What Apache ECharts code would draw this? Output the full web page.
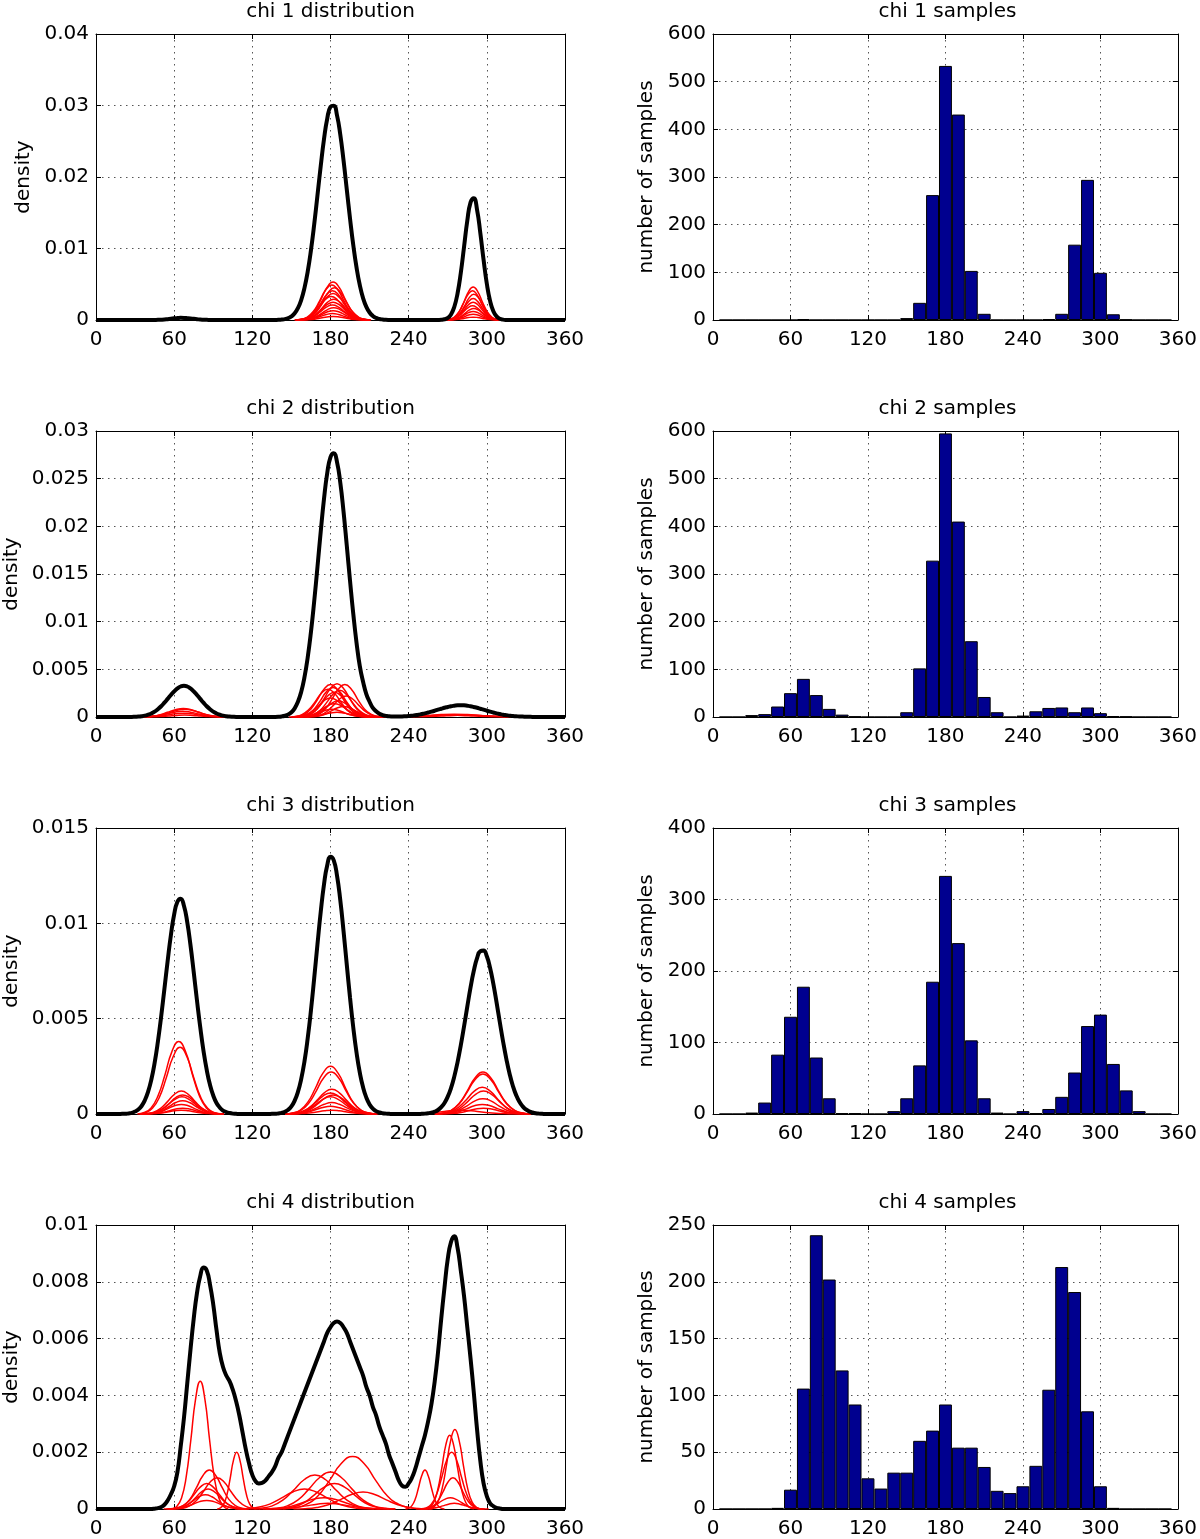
<!DOCTYPE html>
<html><head><meta charset="utf-8">
<script src="https://cdn.jsdelivr.net/npm/echarts@6/dist/echarts.min.js"></script>
<style>html,body{margin:0;padding:0;background:#fff}#c{width:1200px;height:1539px}</style>
</head><body><div id="c"></div>
<script>
// ---------- data ----------
const distTitles = ['chi 1 distribution','chi 2 distribution','chi 3 distribution','chi 4 distribution'];
const sampleTitles = ['chi 1 samples','chi 2 samples','chi 3 samples','chi 4 samples'];
const densityYMax = [0.04,0.03,0.015,0.01];
const densityYStep = [0.01,0.005,0.005,0.002];
const countYMax = [600,600,400,250];
const countYStep = [100,100,100,50];

// total density curves: [angle, density]
const chi1Density = [[0,0],[42.5,0],[45,0.00001],[47.5,0.00002],[50,0.00004],[52.5,0.00007],[55,0.00012],[57.5,0.00017],[60,0.00023],[62.5,0.00027],[65,0.0003],[67.5,0.00029],[70,0.00026],[72.5,0.00022],[75,0.00016],[77.5,0.00011],[80,0.00006],[82.5,0.00004],[85,0.00002],[87.5,0.00001],[90,0],
 [135,0],[137.5,0.00001],[140,0.00002],[142.5,0.00006],[145,0.00012],[147.5,0.00025],[150,0.0005],[152.5,0.00093],[155,0.00166],[157.5,0.00279],[160,0.00446],[162.5,0.00677],[165,0.00977],[167.5,0.01339],[170,0.01744],[172.5,0.02154],[175,0.02528],[177.5,0.02817],[180,0.02982],[182.5,0.02998],[185,0.02862],[187.5,0.02594],[190,0.02233],[192.5,0.01826],[195,0.01418],[197.5,0.01045],[200,0.00732],[202.5,0.00487],[205,0.00307],[207.5,0.00184],[210,0.00105],[212.5,0.00057],[215,0.00029],[217.5,0.00014],[220,0.00007],[222.5,0.00003],[225,0.00001],[227.5,0],
 [260,0],[262.5,0.00001],[265,0.00003],[267.5,0.0001],[270,0.00029],[272.5,0.00078],[275,0.00182],[277.5,0.0037],[280,0.00657],[282.5,0.01022],[285,0.01387],[287.5,0.01645],[290,0.01703],[292.5,0.01541],[295,0.01218],[297.5,0.00841],[300,0.00507],[302.5,0.00267],[305,0.00123],[307.5,0.0005],[310,0.00017],[312.5,0.00005],[315,0.00001],[317.5,0],[360,0]];
const chi2Density = [[0,0],[22.5,0],[25,0.00001],[27.5,0.00001],[30,0.00003],[32.5,0.00005],[35,0.00008],[37.5,0.00014],[40,0.00024],[42.5,0.00037],[45,0.00056],[47.5,0.00082],[50,0.00113],[52.5,0.0015],[55,0.0019],[57.5,0.00231],[60,0.00269],[62.5,0.003],[65,0.0032],[67.5,0.00327],[70,0.0032],[72.5,0.003],[75,0.00269],[77.5,0.00231],[80,0.0019],[82.5,0.0015],[85,0.00113],[87.5,0.00082],[90,0.00056],[92.5,0.00037],[95,0.00024],[97.5,0.00014],[100,0.00008],[102.5,0.00005],[105,0.00003],[107.5,0.00001],[110,0.00001],[112.5,0],
 [135,0],[137.5,0.00001],[140,0.00003],[142.5,0.00006],[145,0.00013],[147.5,0.00026],[150,0.0005],[152.5,0.00091],[155,0.00159],[157.5,0.00263],[160,0.00415],[162.5,0.00624],[165,0.00892],[167.5,0.01215],[170,0.01575],[172.5,0.01944],[175,0.02286],[177.5,0.02559],[180,0.02727],[182.5,0.02767],[185,0.02674],[187.5,0.0246],[190,0.02155],[192.5,0.01798],[195,0.01428],[197.5,0.0108],[200,0.00777],[202.5,0.00533],[205,0.0037],[207.5,0.0024],[210,0.0016],[212.5,0.00095],[215,0.0006],[217.5,0.00035],[220,0.0002],[222.5,0.00012],[225,0.00007],[227.5,0.00006],[230,0.00005],[232.5,0.00005],[235,0.00006],[237.5,0.00008],[240,0.0001],[242.5,0.00014],[245,0.00019],[247.5,0.00024],[250,0.00031],[252.5,0.00038],[255,0.00047],[257.5,0.00056],[260,0.00066],[262.5,0.00077],[265,0.00087],[267.5,0.00097],[270,0.00105],[272.5,0.00113],[275,0.00118],[277.5,0.00122],[280,0.00123],[282.5,0.00122],[285,0.00118],[287.5,0.00113],[290,0.00105],[292.5,0.00097],[295,0.00087],[297.5,0.00077],[300,0.00066],[302.5,0.00056],[305,0.00047],[307.5,0.00038],[310,0.00031],[312.5,0.00024],[315,0.00019],[317.5,0.00014],[320,0.0001],[322.5,0.00008],[325,0.00005],[327.5,0.00004],[330,0.00003],[332.5,0.00002],[335,0.00001],[337.5,0.00001],[340,0],[360,0]];
const chi3Density = [[0,0],[17.5,0],[20,0.00001],[22.5,0.00001],[25,0.00003],[27.5,0.00006],[30,0.00013],[32.5,0.00024],[35,0.00042],[37.5,0.00072],[40,0.00117],[42.5,0.00181],[45,0.00268],[47.5,0.00379],[50,0.0051],[52.5,0.00656],[55,0.00803],[57.5,0.00939],[60,0.01047],[62.5,0.01113],[65,0.01129],[67.5,0.01092],[70,0.01008],[72.5,0.00887],[75,0.00745],[77.5,0.00596],[80,0.00456],[82.5,0.00332],[85,0.00231],[87.5,0.00153],[90,0.00097],[92.5,0.00058],[95,0.00034],[97.5,0.00018],[100,0.0001],[102.5,0.00005],[105,0.00002],[107.5,0.00001],[110,0],
 [132.5,0],[135,0.00001],[137.5,0.00001],[140,0.00003],[142.5,0.00006],[145,0.00012],[147.5,0.00022],[150,0.0004],[152.5,0.0007],[155,0.00116],[157.5,0.00183],[160,0.00275],[162.5,0.00397],[165,0.00544],[167.5,0.00713],[170,0.0089],[172.5,0.0106],[175,0.01204],[177.5,0.01305],[180,0.01349],[182.5,0.0133],[185,0.0125],[187.5,0.01122],[190,0.0096],[192.5,0.00783],[195,0.0061],[197.5,0.00453],[200,0.00321],[202.5,0.00217],[205,0.0014],[207.5,0.00086],[210,0.0005],[212.5,0.00028],[215,0.00015],[217.5,0.00008],[220,0.00004],[222.5,0.00002],[225,0.00001],[227.5,0],
 [247.5,0],[250,0.00001],[252.5,0.00002],[255,0.00004],[257.5,0.00007],[260,0.00012],[262.5,0.00021],[265,0.00036],[267.5,0.00058],[270,0.00091],[272.5,0.00136],[275,0.00196],[277.5,0.00271],[280,0.0036],[282.5,0.00459],[285,0.00563],[287.5,0.00664],[290,0.00751],[292.5,0.00817],[295,0.00854],[297.5,0.00857],[300,0.00827],[302.5,0.00766],[305,0.00682],[307.5,0.00584],[310,0.0048],[312.5,0.00379],[315,0.00288],[317.5,0.0021],[320,0.00147],[322.5,0.00099],[325,0.00064],[327.5,0.0004],[330,0.00024],[332.5,0.00014],[335,0.00008],[337.5,0.00004],[340,0.00002],[342.5,0.00001],[345,0],[360,0]];
const chi4Density = [[0,0],[42.5,0],[45,0.00001],[47.5,0.00003],[50,0.00007],[52.5,0.00015],[55,0.0003],[57.5,0.00052],[60,0.0008],[62.5,0.0013],[65,0.0022],[67.5,0.0032],[70,0.0044],[72.5,0.0056],[75,0.0067],[77.5,0.0076],[80,0.0082],[82.5,0.0085],[85,0.0084],[87.5,0.0079],[90,0.0072],[92.5,0.0063],[95,0.0055],[97.5,0.005],[100,0.0047],[102.5,0.0045],[105,0.0042],[107.5,0.0038],[110,0.0033],[112.5,0.0027],[115,0.0021],[117.5,0.0016],[120,0.0012],[122.5,0.00098],[125,0.0009],[127.5,0.00092],[130,0.001],[132.5,0.00115],[135,0.0013],[137.5,0.0015],[140,0.0018],[142.5,0.002],[145,0.0023],[147.5,0.0026],[150,0.0029],[152.5,0.0032],[155,0.0035],[157.5,0.0038],[160,0.0041],[162.5,0.0044],[165,0.0047],[167.5,0.005],[170,0.0053],[172.5,0.0056],[175,0.0059],[177.5,0.0062],[180,0.0064],[182.5,0.00655],[185,0.0066],[187.5,0.00655],[190,0.0064],[192.5,0.0062],[195,0.0059],[197.5,0.0056],[200,0.0053],[202.5,0.005],[205,0.0047],[207.5,0.0043],[210,0.004],[212.5,0.0036],[215,0.0033],[217.5,0.0029],[220,0.0026],[222.5,0.0023],[225,0.0019],[227.5,0.0016],[230,0.0013],[232.5,0.001],[235,0.00082],[237.5,0.00078],[240,0.0009],[242.5,0.0011],[245,0.0014],[247.5,0.0018],[250,0.0022],[252.5,0.0026],[255,0.0031],[257.5,0.0037],[260,0.0045],[262.5,0.0055],[265,0.0067],[267.5,0.0078],[270,0.0088],[272.5,0.0094],[275,0.0096],[277.5,0.0092],[280,0.0084],[282.5,0.0075],[285,0.0064],[287.5,0.0053],[290,0.0041],[292.5,0.0028],[295,0.0017],[297.5,0.0009],[300,0.00045],[302.5,0.0002],[305,0.0001],[307.5,0.00004],[310,0.00002],[312.5,0],[360,0]];

// red component curves: [first angle, angle step, densities]
const chi1Red = [
 [153.8,4.7,[0,0.00011,0.00045,0.00132,0.00286,0.00454,0.0053,0.00454,0.00286,0.00132,0.00045,0.00011,0]],
 [152.8,4.7,[0,0.0001,0.00041,0.00122,0.00264,0.0042,0.0049,0.0042,0.00264,0.00122,0.00041,0.0001,0]],
 [154.8,4.7,[0,0.00009,0.00038,0.00112,0.00243,0.00386,0.0045,0.00386,0.00243,0.00112,0.00038,0.00009,0]],
 [153.3,4.7,[0,0.00009,0.00035,0.00102,0.00221,0.00351,0.0041,0.00351,0.00221,0.00102,0.00035,0.00009,0]],
 [153.8,4.7,[0,0.00008,0.00031,0.00092,0.00199,0.00317,0.0037,0.00317,0.00199,0.00092,0.00031,0.00008,0]],
 [152.3,4.7,[0,0.00007,0.00028,0.00082,0.00178,0.00283,0.0033,0.00283,0.00178,0.00082,0.00028,0.00007,0]],
 [154.3,4.7,[0,0.00006,0.00025,0.00072,0.00156,0.00249,0.0029,0.00249,0.00156,0.00072,0.00025,0.00006,0]],
 [153.8,4.7,[0,0.00005,0.00021,0.00062,0.00135,0.00214,0.0025,0.00214,0.00135,0.00062,0.00021,0.00005,0]],
 [153.3,4.7,[0,0.00004,0.00018,0.00052,0.00113,0.0018,0.0021,0.0018,0.00113,0.00052,0.00018,0.00004,0]],
 [154.3,4.7,[0,0.00004,0.00014,0.00042,0.00092,0.00146,0.0017,0.00146,0.00092,0.00042,0.00014,0.00004,0]],
 [153.8,4.7,[0,0.00003,0.00011,0.00032,0.0007,0.00111,0.0013,0.00111,0.0007,0.00032,0.00011,0.00003,0]],
 [153.3,4.7,[0,0.00002,0.00008,0.00022,0.00049,0.00077,0.0009,0.00077,0.00049,0.00022,0.00008,0.00002,0]],
 [153.8,4.7,[0,0.00001,0.00004,0.00012,0.00027,0.00043,0.0005,0.00043,0.00027,0.00012,0.00004,0.00001,0]],
 [267.9,3.6,[0,0.0001,0.00039,0.00115,0.00248,0.00394,0.0046,0.00394,0.00248,0.00115,0.00039,0.0001,0]],
 [267.4,3.6,[0,0.00009,0.00035,0.00102,0.00221,0.00351,0.0041,0.00351,0.00221,0.00102,0.00035,0.00009,0]],
 [268.4,3.6,[0,0.00008,0.0003,0.0009,0.00194,0.00309,0.0036,0.00309,0.00194,0.0009,0.0003,0.00008,0]],
 [267.9,3.6,[0,0.00006,0.00025,0.00075,0.00162,0.00257,0.003,0.00257,0.00162,0.00075,0.00025,0.00006,0]],
 [267.9,3.6,[0,0.00005,0.00021,0.00062,0.00135,0.00214,0.0025,0.00214,0.00135,0.00062,0.00021,0.00005,0]],
 [267.4,3.6,[0,0.00004,0.00017,0.0005,0.00108,0.00171,0.002,0.00171,0.00108,0.0005,0.00017,0.00004,0]],
 [268.4,3.6,[0,0.00003,0.00014,0.0004,0.00086,0.00137,0.0016,0.00137,0.00086,0.0004,0.00014,0.00003,0]],
 [267.9,3.6,[0,0.00003,0.0001,0.0003,0.00065,0.00103,0.0012,0.00103,0.00065,0.0003,0.0001,0.00003,0]],
 [267.9,3.6,[0,0.00002,0.00007,0.0002,0.00043,0.00069,0.0008,0.00069,0.00043,0.0002,0.00007,0.00002,0]],
 [267.9,3.6,[0,0.00001,0.00003,0.0001,0.00022,0.00034,0.0004,0.00034,0.00022,0.0001,0.00003,0.00001,0]]
];
const chi2Red = [
 [30.4,6.1,[0,0.00002,0.00008,0.00022,0.00049,0.00077,0.0009,0.00077,0.00049,0.00022,0.00008,0.00002,0]],
 [31.4,6.1,[0,0.00002,0.00007,0.0002,0.00043,0.00069,0.0008,0.00069,0.00043,0.0002,0.00007,0.00002,0]],
 [29.9,6.1,[0,0.00001,0.00005,0.00015,0.00032,0.00051,0.0006,0.00051,0.00032,0.00015,0.00005,0.00001,0]],
 [30.4,6.1,[0,0.00001,0.00003,0.0001,0.00022,0.00034,0.0004,0.00034,0.00022,0.0001,0.00003,0.00001,0]],
 [31.4,6.1,[0,0,0.00002,0.00005,0.00011,0.00017,0.0002,0.00017,0.00011,0.00005,0.00002,0,0]],
 [150,5,[0,0.00007,0.00029,0.00085,0.00183,0.00291,0.0034,0.00291,0.00183,0.00085,0.00029,0.00007,0]],
 [155,5,[0,0.00007,0.0003,0.00087,0.00189,0.003,0.0035,0.003,0.00189,0.00087,0.0003,0.00007,0]],
 [161,5,[0,0.00007,0.00029,0.00085,0.00183,0.00291,0.0034,0.00291,0.00183,0.00085,0.00029,0.00007,0]],
 [152,5,[0,0.00007,0.00026,0.00077,0.00167,0.00266,0.0031,0.00266,0.00167,0.00077,0.00026,0.00007,0]],
 [148,5,[0,0.00006,0.00025,0.00072,0.00156,0.00249,0.0029,0.00249,0.00156,0.00072,0.00025,0.00006,0]],
 [157,5,[0,0.00006,0.00024,0.0007,0.00151,0.0024,0.0028,0.0024,0.00151,0.0007,0.00024,0.00006,0]],
 [153,5,[0,0.00005,0.00022,0.00065,0.0014,0.00223,0.0026,0.00223,0.0014,0.00065,0.00022,0.00005,0]],
 [162,5,[0,0.00005,0.00019,0.00055,0.00119,0.00189,0.0022,0.00189,0.00119,0.00055,0.00019,0.00005,0]],
 [150,5,[0,0.00004,0.00017,0.0005,0.00108,0.00171,0.002,0.00171,0.00108,0.0005,0.00017,0.00004,0]],
 [156,5,[0,0.00004,0.00014,0.00042,0.00092,0.00146,0.0017,0.00146,0.00092,0.00042,0.00014,0.00004,0]],
 [153,5,[0,0.00003,0.00012,0.00035,0.00075,0.0012,0.0014,0.0012,0.00075,0.00035,0.00012,0.00003,0]],
 [160,5,[0,0.00002,0.00009,0.00027,0.00059,0.00094,0.0011,0.00094,0.00059,0.00027,0.00009,0.00002,0]],
 [151,5,[0,0.00002,0.00007,0.0002,0.00043,0.00069,0.0008,0.00069,0.00043,0.0002,0.00007,0.00002,0]],
 [155,5,[0,0.00001,0.00004,0.00012,0.00027,0.00043,0.0005,0.00043,0.00027,0.00012,0.00004,0.00001,0]],
 [215,10,[0,0.00001,0.00003,0.00007,0.00016,0.00026,0.0003,0.00026,0.00016,0.00007,0.00003,0.00001,0]],
 [225,10,[0,0,0.00002,0.00005,0.00011,0.00017,0.0002,0.00017,0.00011,0.00005,0.00002,0,0]],
 [210,10,[0,0,0.00002,0.00005,0.00011,0.00017,0.0002,0.00017,0.00011,0.00005,0.00002,0,0]]
];
const chi3Red = [
 [31.7,5.3,[0,0.00008,0.00032,0.00095,0.00205,0.00326,0.0038,0.00326,0.00205,0.00095,0.00032,0.00008,0]],
 [32.7,5.3,[0,0.00007,0.0003,0.00087,0.00189,0.003,0.0035,0.003,0.00189,0.00087,0.0003,0.00007,0]],
 [33.7,5.3,[0,0.00003,0.0001,0.0003,0.00065,0.00103,0.0012,0.00103,0.00065,0.0003,0.0001,0.00003,0]],
 [34.7,5.3,[0,0.00002,0.00008,0.00025,0.00054,0.00086,0.001,0.00086,0.00054,0.00025,0.00008,0.00002,0]],
 [34.2,5.3,[0,0.00002,0.00008,0.00022,0.00049,0.00077,0.0009,0.00077,0.00049,0.00022,0.00008,0.00002,0]],
 [34.7,5.3,[0,0.00001,0.00006,0.00017,0.00038,0.0006,0.0007,0.0006,0.00038,0.00017,0.00006,0.00001,0]],
 [33.7,5.3,[0,0.00001,0.00004,0.00012,0.00027,0.00043,0.0005,0.00043,0.00027,0.00012,0.00004,0.00001,0]],
 [34.7,5.3,[0,0.00001,0.00003,0.00007,0.00016,0.00026,0.0003,0.00026,0.00016,0.00007,0.00003,0.00001,0]],
 [33.7,5.3,[0,0,0.00002,0.00005,0.00011,0.00017,0.0002,0.00017,0.00011,0.00005,0.00002,0,0]],
 [145.2,5.8,[0,0.00005,0.00021,0.00062,0.00135,0.00214,0.0025,0.00214,0.00135,0.00062,0.00021,0.00005,0]],
 [145.7,5.8,[0,0.00005,0.00019,0.00055,0.00119,0.00189,0.0022,0.00189,0.00119,0.00055,0.00019,0.00005,0]],
 [146.2,5.8,[0,0.00003,0.00011,0.00032,0.0007,0.00111,0.0013,0.00111,0.0007,0.00032,0.00011,0.00003,0]],
 [145.2,5.8,[0,0.00002,0.00009,0.00027,0.00059,0.00094,0.0011,0.00094,0.00059,0.00027,0.00009,0.00002,0]],
 [147.2,5.8,[0,0.00002,0.00008,0.00025,0.00054,0.00086,0.001,0.00086,0.00054,0.00025,0.00008,0.00002,0]],
 [145.2,5.8,[0,0.00002,0.00008,0.00022,0.00049,0.00077,0.0009,0.00077,0.00049,0.00022,0.00008,0.00002,0]],
 [146.2,5.8,[0,0.00001,0.00005,0.00015,0.00032,0.00051,0.0006,0.00051,0.00032,0.00015,0.00005,0.00001,0]],
 [145.2,5.8,[0,0.00001,0.00003,0.0001,0.00022,0.00034,0.0004,0.00034,0.00022,0.0001,0.00003,0.00001,0]],
 [146.2,5.8,[0,0,0.00002,0.00005,0.00011,0.00017,0.0002,0.00017,0.00011,0.00005,0.00002,0,0]],
 [260.4,6.1,[0,0.00005,0.00019,0.00055,0.00119,0.00189,0.0022,0.00189,0.00119,0.00055,0.00019,0.00005,0]],
 [260.4,6.1,[0,0.00004,0.00018,0.00052,0.00113,0.0018,0.0021,0.0018,0.00113,0.00052,0.00018,0.00004,0]],
 [259.9,6.1,[0,0.00003,0.00012,0.00035,0.00075,0.0012,0.0014,0.0012,0.00075,0.00035,0.00012,0.00003,0]],
 [260.9,6.1,[0,0.00003,0.0001,0.0003,0.00065,0.00103,0.0012,0.00103,0.00065,0.0003,0.0001,0.00003,0]],
 [260.4,6.1,[0,0.00002,0.00007,0.0002,0.00043,0.00069,0.0008,0.00069,0.00043,0.0002,0.00007,0.00002,0]],
 [259.9,6.1,[0,0.00001,0.00004,0.00012,0.00027,0.00043,0.0005,0.00043,0.00027,0.00012,0.00004,0.00001,0]],
 [260.9,6.1,[0,0.00001,0.00003,0.00007,0.00016,0.00026,0.0003,0.00026,0.00016,0.00007,0.00003,0.00001,0]],
 [232,8,[0,0,0.00002,0.00005,0.00011,0.00017,0.0002,0.00017,0.00011,0.00005,0.00002,0,0]]
];
const chi4Red = [
 [58.4,3.6,[0,0.00009,0.00038,0.00112,0.00243,0.00386,0.0045,0.00386,0.00243,0.00112,0.00038,0.00009,0]],
 [93,2.5,[0,0.00004,0.00017,0.0005,0.00108,0.00171,0.002,0.00171,0.00108,0.0005,0.00017,0.00004,0]],
 [57,5,[0,0.00003,0.00012,0.00034,0.00074,0.00117,0.00137,0.00117,0.00074,0.00034,0.00012,0.00003,0]],
 [60,5.5,[0,0.00002,0.00009,0.00027,0.00059,0.00094,0.0011,0.00094,0.00059,0.00027,0.00009,0.00002,0]],
 [55,5,[0,0.00002,0.00008,0.00022,0.00049,0.00077,0.0009,0.00077,0.00049,0.00022,0.00008,0.00002,0]],
 [56,5,[0,0.00001,0.00006,0.00017,0.00038,0.0006,0.0007,0.0006,0.00038,0.00017,0.00006,0.00001,0]],
 [54,5,[0,0.00001,0.00004,0.00012,0.00027,0.00043,0.0005,0.00043,0.00027,0.00012,0.00004,0.00001,0]],
 [52,5.5,[0,0.00001,0.00003,0.00007,0.00016,0.00026,0.0003,0.00026,0.00016,0.00007,0.00003,0.00001,0]],
 [143.6,8.9,[0,0.00004,0.00016,0.00046,0.001,0.00159,0.00185,0.00159,0.001,0.00046,0.00016,0.00004,0]],
 [118.2,8.3,[0,0.00003,0.0001,0.0003,0.00065,0.00103,0.0012,0.00103,0.00065,0.0003,0.0001,0.00003,0]],
 [130.2,8.3,[0,0.00003,0.00011,0.00032,0.0007,0.00111,0.0013,0.00111,0.0007,0.00032,0.00011,0.00003,0]],
 [106.6,8.9,[0,0.00001,0.00006,0.00017,0.00038,0.0006,0.0007,0.0006,0.00038,0.00017,0.00006,0.00001,0]],
 [136.2,7.8,[0,0.00002,0.00008,0.00022,0.00049,0.00077,0.0009,0.00077,0.00049,0.00022,0.00008,0.00002,0]],
 [151.6,8.9,[0,0.00001,0.00005,0.00015,0.00032,0.00051,0.0006,0.00051,0.00032,0.00015,0.00005,0.00001,0]],
 [125.2,8.3,[0,0.00001,0.00003,0.0001,0.00022,0.00034,0.0004,0.00034,0.00022,0.0001,0.00003,0.00001,0]],
 [128.2,8.3,[0,0,0.00002,0.00005,0.00011,0.00017,0.0002,0.00017,0.00011,0.00005,0.00002,0,0]],
 [237.5,2.5,[0,0.00003,0.00012,0.00034,0.00074,0.00117,0.00137,0.00117,0.00074,0.00034,0.00012,0.00003,0]],
 [255.7,3.3,[0,0.00006,0.00024,0.0007,0.00151,0.0024,0.0028,0.0024,0.00151,0.0007,0.00024,0.00006,0]],
 [252.9,3.1,[0,0.00005,0.00022,0.00065,0.0014,0.00223,0.0026,0.00223,0.0014,0.00065,0.00022,0.00005,0]],
 [249.6,3.9,[0,0.00004,0.00017,0.0005,0.00108,0.00171,0.002,0.00171,0.00108,0.0005,0.00017,0.00004,0]],
 [250.6,3.9,[0,0.00002,0.00009,0.00027,0.00059,0.00094,0.0011,0.00094,0.00059,0.00027,0.00009,0.00002,0]],
 [245.6,4.4,[0,0.00001,0.00003,0.0001,0.00022,0.00034,0.0004,0.00034,0.00022,0.0001,0.00003,0.00001,0]],
 [248.6,4.4,[0,0,0.00002,0.00005,0.00011,0.00017,0.0002,0.00017,0.00011,0.00005,0.00002,0,0]]
];

const binCenters = [10,20,30,40,50,60,70,80,90,100,110,120,130,140,150,160,170,180,190,200,210,220,230,240,250,260,270,280,290,300,310,320,330,340,350];
const chi1Counts = [0,0,0,0,0,0,2,0,0,0,0,0,0,0,4,36,262,533,431,103,13,0,0,0,0,2,13,158,294,99,12,1,0,0,0];
const chi2Counts = [0,0,4,6,22,50,80,46,17,5,1,0,0,0,10,102,328,595,410,159,42,10,0,3,12,19,20,10,20,8,2,1,0,0,0];
const chi3Counts = [0,0,2,16,83,136,178,79,22,1,1,0,0,4,22,68,185,333,239,103,22,2,0,4,1,7,24,58,123,139,70,33,4,0,0];
const chi4Counts = [0,0,0,0,1,17,106,241,202,122,92,27,18,32,32,60,69,92,54,54,37,16,14,20,38,105,213,191,86,20,1,0,0,0,0];

const densitySets = [chi1Density, chi2Density, chi3Density, chi4Density];
const redSets = [chi1Red, chi2Red, chi3Red, chi4Red];
const countSets = [chi1Counts, chi2Counts, chi3Counts, chi4Counts];

// ---------- chart ----------
const FONT = 'DejaVu Sans';
const chart = echarts.init(document.getElementById('c'), null, {renderer:'canvas', width:1200, height:1539});
const grids = [], xAxes = [], yAxes = [], series = [], titles = [];
const axisLineStyle = {show:true, onZero:false, lineStyle:{color:'#000', width:1}};
const tickStyle = {show:true, inside:true, length:5, lineStyle:{color:'#000', width:1}};
const gridLine = {show:true, lineStyle:{color:'#555', width:1, type:[1.5,4.5]}};
const labelStyle = {fontSize:20, color:'#000', fontFamily:FONT};

for (let r = 0; r < 4; r++) {
  for (let c = 0; c < 2; c++) {
    const g = r * 2 + c;
    const left = c === 0 ? 96 : 713;
    const top = 34 + 397 * r;
    grids.push({left: left, top: top, width: 469, height: 286, containLabel: false});
    titles.push({
      text: c === 0 ? distTitles[r] : sampleTitles[r],
      left: left + 234.5, top: top - 32, textAlign: 'center', padding: 0,
      textStyle: {fontSize: 20, fontWeight: 'normal', color: '#000', fontFamily: FONT}
    });
    xAxes.push({gridIndex:g, type:'value', min:0, max:360, interval:60, position:'bottom',
      axisLine:axisLineStyle, axisTick:tickStyle,
      axisLabel:Object.assign({margin:10}, labelStyle), splitLine:gridLine});
    xAxes.push({gridIndex:g, type:'value', min:0, max:360, interval:60, position:'top',
      axisLine:axisLineStyle, axisTick:tickStyle, axisLabel:{show:false}, splitLine:{show:false}});
    const yMax = c === 0 ? densityYMax[r] : countYMax[r];
    const yStep = c === 0 ? densityYStep[r] : countYStep[r];
    yAxes.push({gridIndex:g, type:'value', min:0, max:yMax, interval:yStep, position:'left',
      name: c === 0 ? 'density' : 'number of samples', nameLocation:'middle',
      nameGap: c === 0 ? (r === 0 ? 62 : 74) : 56,
      nameTextStyle: {fontSize:20, color:'#000', fontFamily:FONT},
      axisLine:axisLineStyle, axisTick:tickStyle,
      axisLabel:Object.assign({margin:7}, labelStyle), splitLine:gridLine});
    yAxes.push({gridIndex:g, type:'value', min:0, max:yMax, interval:yStep, position:'right',
      axisLine:axisLineStyle, axisTick:tickStyle, axisLabel:{show:false}, splitLine:{show:false}});

    if (c === 0) {
      redSets[r].forEach(function (rc) {
        series.push({type:'line', xAxisIndex:2*g, yAxisIndex:2*g, showSymbol:false, symbol:'none',
          smooth:0.5, silent:true, clip:true,
          lineStyle:{color:'#ff0000', width:1.5},
          data: rc[2].map(function (v, i) { return [rc[0] + i * rc[1], v]; })});
      });
      series.push({type:'line', xAxisIndex:2*g, yAxisIndex:2*g, showSymbol:false, symbol:'none',
        smooth:0.5, silent:true, clip:true,
        lineStyle:{color:'#000', width:4},
        data: densitySets[r]});
    } else {
      series.push({type:'bar', xAxisIndex:2*g, yAxisIndex:2*g, barWidth:'100%', silent:true,
        itemStyle:{color:'#00008F', borderColor:'#000', borderWidth:1},
        data: binCenters.map(function (x, i) { return [x, countSets[r][i]]; })});
    }
  }
}

chart.setOption({
  animation:false,
  backgroundColor:'#fff',
  title:titles, grid:grids, xAxis:xAxes, yAxis:yAxes, series:series
});
</script></body></html>
